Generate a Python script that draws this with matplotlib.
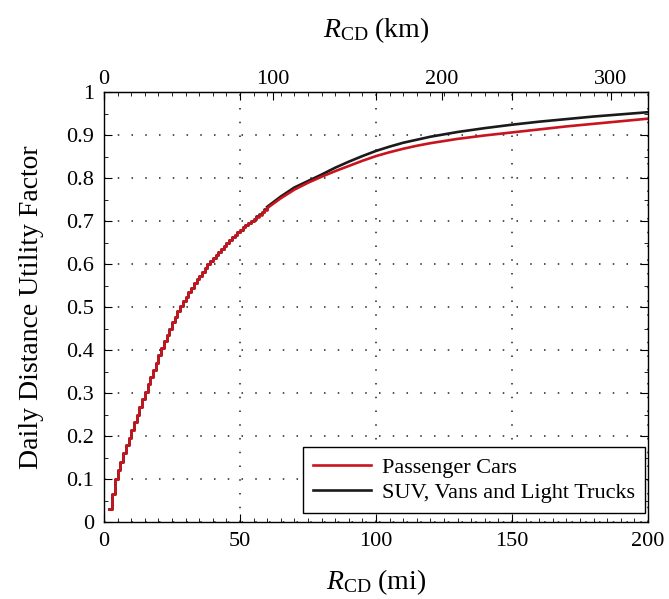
import numpy as np
import matplotlib
matplotlib.use("Agg")
import matplotlib.pyplot as plt
from matplotlib.ticker import MultipleLocator

plt.rcParams['font.family'] = ['Liberation Serif', 'DejaVu Serif']
plt.rcParams['mathtext.fontset'] = 'custom'
plt.rcParams['mathtext.rm'] = 'Liberation Serif'
plt.rcParams['mathtext.it'] = 'Liberation Serif:italic'

# fine part (1 mi steps)
miles_fine = [2, 3, 4, 5, 6, 7, 8, 9, 10, 11, 12, 13, 14, 15, 16, 17, 18, 19, 20,
              21, 22, 23, 24, 25, 26, 27, 28, 29, 30, 31, 32, 33, 34, 35, 36, 37, 38,
              39, 40, 41, 42, 43, 44, 45, 46, 47, 48, 49, 50, 51, 52, 53, 54, 55, 56,
              57, 58, 59, 60]
cars_fine = [0.030, 0.065, 0.100, 0.120, 0.140, 0.160, 0.178, 0.195, 0.213, 0.232,
             0.250, 0.268, 0.286, 0.303, 0.320, 0.337, 0.354, 0.370, 0.388, 0.405,
             0.421, 0.436, 0.450, 0.464, 0.477, 0.490, 0.502, 0.513, 0.524, 0.535,
             0.545, 0.555, 0.564, 0.573, 0.582, 0.591, 0.599, 0.607, 0.615, 0.622,
             0.629, 0.636, 0.643, 0.650, 0.656, 0.662, 0.668, 0.674, 0.680, 0.685,
             0.690, 0.695, 0.700, 0.705, 0.710, 0.715, 0.720, 0.725, 0.730]
suv_fine = [0.030, 0.065, 0.100, 0.120, 0.140, 0.160, 0.178, 0.195, 0.213, 0.232,
            0.250, 0.268, 0.286, 0.303, 0.320, 0.337, 0.354, 0.370, 0.388, 0.405,
            0.421, 0.436, 0.450, 0.464, 0.477, 0.490, 0.502, 0.513, 0.524, 0.535,
            0.545, 0.555, 0.564, 0.573, 0.582, 0.591, 0.599, 0.607, 0.615, 0.622,
            0.629, 0.636, 0.643, 0.650, 0.656, 0.662, 0.668, 0.674, 0.680, 0.685,
            0.690, 0.695, 0.700, 0.705, 0.711, 0.716, 0.721, 0.727, 0.733]

# coarse part (smooth)
miles_coarse = [60, 65, 70, 75, 80, 85, 90, 95, 100, 105, 110, 115, 120, 130, 140,
                150, 160, 170, 180, 190, 200]
cars_coarse = [0.730, 0.753, 0.773, 0.789, 0.803, 0.816, 0.828, 0.840, 0.851, 0.860,
               0.868, 0.875, 0.881, 0.891, 0.899, 0.906, 0.913, 0.920, 0.926, 0.932,
               0.938]
suv_coarse = [0.733, 0.757, 0.778, 0.793, 0.808, 0.824, 0.838, 0.851, 0.863, 0.873,
              0.882, 0.889, 0.896, 0.907, 0.916, 0.924, 0.931, 0.937, 0.943, 0.948,
              0.953]

KM_PER_MI = 1.609344

fig = plt.figure(figsize=(6.69, 5.99), dpi=100)
ax = fig.add_axes([0.1555, 0.1285, 0.8131, 0.7179])

# SUV first, cars on top
ax.plot(miles_fine, suv_fine, color='#1a1a1a', lw=1.9, drawstyle='steps-post')
ax.plot(miles_coarse, suv_coarse, color='#1a1a1a', lw=1.9,
        label='SUV, Vans and Light Trucks')
ax.plot(miles_fine, cars_fine, color='#c8141e', lw=1.9, drawstyle='steps-post')
ax.plot(miles_coarse, cars_coarse, color='#c8141e', lw=1.9, label='Passenger Cars')

ax.set_xlim(0, 200)
ax.set_ylim(0, 1)
ax.set_xticks([0, 50, 100, 150, 200])
ax.set_yticks(np.arange(0, 1.01, 0.1))
ax.set_yticklabels(['0', '0.1', '0.2', '0.3', '0.4', '0.5', '0.6', '0.7', '0.8', '0.9', '1'])
ax.xaxis.set_minor_locator(MultipleLocator(5))
ax.yaxis.set_minor_locator(MultipleLocator(0.05))
ax.tick_params(which='both', direction='in', top=True, right=True, labelsize=16, pad=7)
ax.tick_params(which='major', length=6)
ax.tick_params(which='minor', length=3)
ax.grid(True, which='major', color='#222222', linestyle=(0, (1, 8)), lw=1.1)

ax.set_xlabel(r'$R_{\mathrm{CD}}$ (mi)', fontsize=20, labelpad=12)
ax.set_ylabel('Daily Distance Utility Factor', fontsize=20, labelpad=16)

# km axis on top
sec = ax.secondary_xaxis('top', functions=(lambda m: m * KM_PER_MI,
                                           lambda k: k / KM_PER_MI))
sec.set_xticks([0, 100, 200, 300])
sec.tick_params(direction='in', length=6, labelsize=16, pad=2)
sec.set_xlabel(r'$R_{\mathrm{CD}}$ (km)', fontsize=20, labelpad=24)

handles, labels = ax.get_legend_handles_labels()
leg = ax.legend(handles[::-1], labels[::-1], loc='lower right', fontsize=16,
                bbox_to_anchor=(1 - 3 / 544, 9 / 430), borderaxespad=0,
                fancybox=False, framealpha=1, edgecolor='black',
                handlelength=2.6, borderpad=0.45,
                labelspacing=0.2, handletextpad=0.5)
leg.get_frame().set_linewidth(1.0)

for s in ax.spines.values():
    s.set_linewidth(1.0)

fig.savefig('out.png', dpi=100)
